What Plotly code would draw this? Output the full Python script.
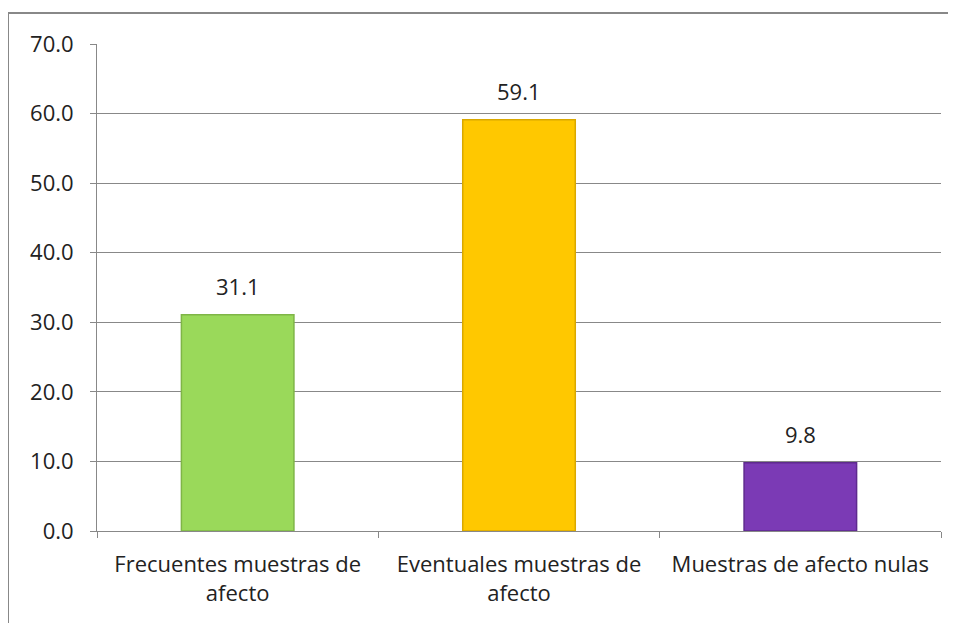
import plotly.graph_objects as go

categories = ["Frecuentes muestras de<br>afecto", "Eventuales muestras de<br>afecto", "Muestras de afecto nulas"]
values = [31.1, 59.1, 9.8]
bar_colors = ["#9AD95A", "#FFC800", "#7B3AB5"]
edge_colors = ["#7FB547", "#D9A800", "#5E2A8E"]
y_ticks = [0, 10, 20, 30, 40, 50, 60, 70]

# page has an 8px body margin, so figure coords are offset by 8
W, H = 956, 623
ML, MR, MT, MB = 89, 23, 36, 100
pw, ph = W - ML - MR, H - MT - MB

fig = go.Figure(go.Bar(
    x=categories, y=values, width=0.4,
    marker=dict(color=bar_colors, line=dict(color=edge_colors, width=1.5)),
))

for c, v in zip(categories, values):
    fig.add_annotation(x=c, y=v, text=f"{v:.1f}", showarrow=False,
                       yanchor="bottom", yshift=12, font=dict(size=22, color="#222"))

fig.update_layout(
    width=W, height=H,
    margin=dict(l=ML, r=MR, t=MT, b=MB),
    paper_bgcolor="white", plot_bgcolor="white",
    font=dict(family="Open Sans, Liberation Sans, sans-serif", size=22, color="#222"),
    showlegend=False,
    bargap=0.6,
)
fig.update_xaxes(
    type="category", showgrid=False, showline=True, linecolor="#888", linewidth=1,
    ticks="outside", tickson="boundaries", ticklen=6, tickcolor="#888",
    ticklabelstandoff=14,
)
fig.update_yaxes(
    range=[0, 70], tickvals=y_ticks, tickformat=".1f",
    showgrid=True, gridcolor="#888", gridwidth=1,
    showline=True, linecolor="#888", linewidth=1,
    ticks="outside", ticklen=6, tickcolor="#888", zeroline=False,
    ticklabelstandoff=12,
)

# outer chart border (left and top visible, rest runs off the page)
fig.add_shape(
    type="rect", xref="paper", yref="paper",
    x0=(0 - ML) / pw, x1=(W + 20 - ML) / pw,
    y0=(MT + ph - (H + 20)) / ph, y1=(MT + ph - 5) / ph,
    line=dict(color="#888", width=2), layer="below",
)

fig.write_html("out.html")
